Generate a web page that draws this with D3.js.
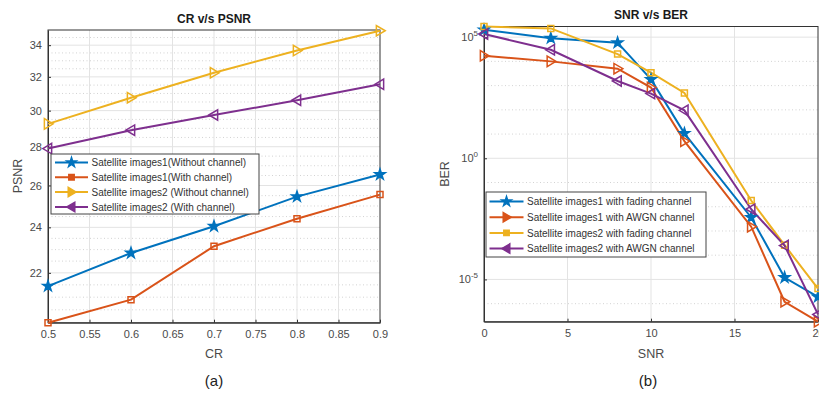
<!DOCTYPE html>
<html>
<head>
<meta charset="utf-8">
<script src="https://cdn.jsdelivr.net/npm/d3@7"></script>
<style>
  html, body { margin: 0; padding: 0; background: #fff; }
  svg { display: block; font-family: "Liberation Sans", Arial, sans-serif; }
</style>
</head>
<body>
<svg id="chart" width="819" height="395"></svg>
<script>
// ---------- Data: chart (a) CR v/s PSNR ----------
const crValues = [0.5, 0.6, 0.7, 0.8, 0.9];
const psnrImg1NoCh = [21.45, 22.85, 24.05, 25.45, 26.55];
const psnrImg1Ch   = [20.0, 20.9, 23.15, 24.4, 25.55];
const psnrImg2NoCh = [29.25, 30.75, 32.25, 33.65, 34.95];
const psnrImg2Ch   = [27.9, 28.9, 29.75, 30.6, 31.55];
const crTicks = [0.5, 0.55, 0.6, 0.65, 0.7, 0.75, 0.8, 0.85, 0.9];
const psnrTicks = [22, 24, 26, 28, 30, 32, 34];
const psnrMinorTicks = [20.5, 21, 21.5, 22.5, 23, 23.5, 24.5, 25, 25.5, 26.5, 27, 27.5, 28.5, 29, 29.5, 30.5, 31, 31.5, 32.5, 33, 33.5, 34.5];
const legendA = ["Satellite images1(Without channel)", "Satellite images1(With channel)", "Satellite images2 (Without channel)", "Satellite images2 (With channel)"];

// ---------- Data: chart (b) SNR v/s BER ----------
const snrValues = [0, 4, 8, 10, 12, 16, 18, 20];
const berImg1Fading = [2.0e5, 9.1e4, 5.9e4, 1.8e3, 10.7, 3.6e-3, 1.2e-5, 1.9e-6];
const berImg1AWGN   = [1.7e4, 1.0e4, 5.0e3, 8.3e2, 5.1, 1.5e-3, 1.2e-6, 1.8e-7];
const berImg2Fading = [2.75e5, 2.3e5, 2.0e4, 3.4e3, 5.0e2, 1.8e-2, 2.6e-4, 4.2e-6];
const berImg2AWGN   = [1.35e5, 3.0e4, 1.55e3, 4.7e2, 95, 7.9e-3, 2.5e-4, 3.6e-7];
const snrTicks = [0, 5, 10, 15, 20];
const berTickExps = [5, 0, -5];
const berMinorExps = [5, 4, 3, 2, 1, 0, -1, -2, -3, -4, -5, -6];
const legendB = ["Satellite images1 with fading channel", "Satellite images1 with AWGN channel", "Satellite images2 with fading channel", "Satellite images2 with AWGN channel"];

const colors = ["#0072BD", "#D95319", "#EDB120", "#7E2F8E"];

const svg = d3.select("#chart");

function triPath(dir, s) {
  const h = s;
  return `M${dir * h},0L${-dir * h * 0.7},${-h}L${-dir * h * 0.7},${h}Z`;
}
function drawMarker(g, kind, x, y, color, filled, scale) {
  scale = scale || 1;
  let p;
  if (kind === "star") p = d3.symbol().type(d3.symbolStar).size(34 * scale * scale)();
  else if (kind === "square") p = d3.symbol().type(d3.symbolSquare).size(36 * scale * scale)();
  else if (kind === "right") p = triPath(1, 5.2 * scale);
  else p = triPath(-1, 5.2 * scale);
  g.append("path").attr("d", p)
    .attr("transform", `translate(${x},${y})`)
    .attr("fill", (filled || kind === "star") ? color : "none")
    .attr("stroke", color).attr("stroke-width", 1.5)
    .attr("stroke-linejoin", "miter");
}

// ================= Chart (a) =================
(function () {
  const x = d3.scaleLinear().domain([0.5, 0.9]).range([48, 380]);
  const y = d3.scaleLog().domain([20, 35]).range([322.7, 30]);
  const g = svg.append("g");
  const [x0, x1] = x.range();
  const [y0, y1] = y.range();

  g.selectAll(".mg").data(psnrMinorTicks).enter().append("line")
    .attr("x1", x0).attr("x2", x1).attr("y1", d => y(d)).attr("y2", d => y(d))
    .attr("stroke", "#c8c8c8").attr("stroke-width", 0.8).attr("stroke-dasharray", "1,2.5");
  g.selectAll(".gy").data(psnrTicks).enter().append("line")
    .attr("x1", x0).attr("x2", x1).attr("y1", d => y(d)).attr("y2", d => y(d))
    .attr("stroke", "#e3e3e3").attr("stroke-width", 1);
  g.selectAll(".gx").data(crTicks.slice(1, -1)).enter().append("line")
    .attr("y1", y0).attr("y2", y1).attr("x1", d => x(d)).attr("x2", d => x(d))
    .attr("stroke", "#e3e3e3").attr("stroke-width", 1);

  const xAxis = d3.axisBottom(x).tickValues(crTicks).tickFormat(d => String(+d.toFixed(2))).tickSizeInner(-3).tickSizeOuter(0).tickPadding(8);
  const gx = g.append("g").attr("transform", `translate(0,${y0})`).call(xAxis);
  const yAxis = d3.axisLeft(y).tickValues(psnrTicks).tickFormat(d3.format("d")).tickSizeInner(-3).tickSizeOuter(0).tickPadding(6);
  const gy = g.append("g").attr("transform", `translate(${x0},0)`).call(yAxis);
  [gx, gy].forEach(a => {
    a.selectAll("text").attr("font-size", 11).attr("fill", "#4a4a4a").attr("font-family", "Liberation Sans, Arial, sans-serif");
    a.selectAll("line").attr("stroke", "#333");
    a.select(".domain").attr("stroke", "#333");
  });
  g.append("rect").attr("x", x0).attr("y", y1).attr("width", x1 - x0).attr("height", y0 - y1)
    .attr("fill", "none").attr("stroke", "#333").attr("stroke-width", 1);

  const series = [psnrImg1NoCh, psnrImg1Ch, psnrImg2NoCh, psnrImg2Ch];
  const kinds = ["star", "square", "right", "left"];
  const line = d3.line().x((d, i) => x(crValues[i])).y(d => y(d));
  series.forEach((s, k) => {
    g.append("path").datum(s).attr("d", line).attr("fill", "none")
      .attr("stroke", colors[k]).attr("stroke-width", 2);
  });
  series.forEach((s, k) => {
    s.forEach((v, i) => drawMarker(g, kinds[k], x(crValues[i]), y(v), colors[k], false));
  });

  g.append("text").attr("x", 214).attr("y", 23).attr("text-anchor", "middle")
    .attr("font-size", 12).attr("font-weight", "bold").attr("fill", "#1a1a1a").text("CR v/s PSNR");
  g.append("text").attr("x", 214).attr("y", 358).attr("text-anchor", "middle")
    .attr("font-size", 12.5).attr("fill", "#4a4a4a").text("CR");
  g.append("text").attr("transform", `translate(22,176) rotate(-90)`).attr("text-anchor", "middle")
    .attr("font-size", 12.5).attr("fill", "#4a4a4a").text("PSNR");
  g.append("text").attr("x", 214).attr("y", 386).attr("text-anchor", "middle")
    .attr("font-size", 15).attr("fill", "#222").text("(a)");

  const lg = g.append("g");
  lg.append("rect").attr("x", 51).attr("y", 154).attr("width", 208).attr("height", 60)
    .attr("fill", "#fff").attr("stroke", "#444").attr("stroke-width", 1);
  legendA.forEach((t, k) => {
    const yy = 162.5 + k * 14.8;
    lg.append("line").attr("x1", 55).attr("x2", 88).attr("y1", yy).attr("y2", yy)
      .attr("stroke", colors[k]).attr("stroke-width", 2);
    drawMarker(lg, kinds[k], 71.5, yy, colors[k], true, 0.9);
    lg.append("text").attr("x", 91.5).attr("y", yy + 3.6).attr("font-size", 10)
      .attr("fill", "#333").text(t);
  });
})();

// ================= Chart (b) =================
(function () {
  const x = d3.scaleLinear().domain([0, 20]).range([484, 818]);
  const y = d3.scaleLog().domain([1.8e-7, 2.75e5]).range([321.7, 26.5]);
  const g = svg.append("g");
  const [x0, x1] = x.range();
  const [y0, y1] = y.range();

  g.selectAll(".mg").data(berMinorExps.filter(e => berTickExps.indexOf(e) < 0)).enter().append("line")
    .attr("x1", x0).attr("x2", x1).attr("y1", d => y(Math.pow(10, d))).attr("y2", d => y(Math.pow(10, d)))
    .attr("stroke", "#c8c8c8").attr("stroke-width", 0.8).attr("stroke-dasharray", "1,2.5");
  g.selectAll(".gy").data(berTickExps).enter().append("line")
    .attr("x1", x0).attr("x2", x1).attr("y1", d => y(Math.pow(10, d))).attr("y2", d => y(Math.pow(10, d)))
    .attr("stroke", "#e3e3e3").attr("stroke-width", 1);
  g.selectAll(".gx").data(snrTicks.slice(1, -1)).enter().append("line")
    .attr("y1", y0).attr("y2", y1).attr("x1", d => x(d)).attr("x2", d => x(d))
    .attr("stroke", "#e3e3e3").attr("stroke-width", 1);

  const xAxis = d3.axisBottom(x).tickValues(snrTicks).tickFormat(d3.format("d")).tickSizeInner(-3).tickSizeOuter(0).tickPadding(8);
  const gx = g.append("g").attr("transform", `translate(0,${y0})`).call(xAxis);
  gx.selectAll("text").attr("font-size", 11).attr("fill", "#4a4a4a");
  gx.selectAll("line").attr("stroke", "#333");
  gx.select(".domain").attr("stroke", "#333");

  const yAxis = d3.axisLeft(y).tickValues(berTickExps.map(e => Math.pow(10, e))).tickFormat(() => "").tickSizeInner(-3).tickSizeOuter(0).tickPadding(6);
  const gy = g.append("g").attr("transform", `translate(${x0},0)`).call(yAxis);
  gy.selectAll("line").attr("stroke", "#333");
  gy.select(".domain").attr("stroke", "#333");
  berTickExps.forEach(e => {
    const t = g.append("text").attr("x", 478).attr("y", y(Math.pow(10, e)) + 4)
      .attr("text-anchor", "end").attr("font-size", 11).attr("fill", "#4a4a4a");
    t.append("tspan").text("10");
    t.append("tspan").attr("dy", -5).attr("font-size", 8).text(String(e));
  });

  g.append("rect").attr("x", x0).attr("y", y1).attr("width", x1 - x0).attr("height", y0 - y1)
    .attr("fill", "none").attr("stroke", "#333").attr("stroke-width", 1);

  const series = [berImg1Fading, berImg1AWGN, berImg2Fading, berImg2AWGN];
  const kinds = ["star", "right", "square", "left"];
  const line = d3.line().x((d, i) => x(snrValues[i])).y(d => y(d));
  series.forEach((s, k) => {
    g.append("path").datum(s).attr("d", line).attr("fill", "none")
      .attr("stroke", colors[k]).attr("stroke-width", 2);
  });
  series.forEach((s, k) => {
    s.forEach((v, i) => drawMarker(g, kinds[k], x(snrValues[i]), y(v), colors[k], false));
  });

  g.append("text").attr("x", 651).attr("y", 19).attr("text-anchor", "middle")
    .attr("font-size", 12).attr("font-weight", "bold").attr("fill", "#1a1a1a").text("SNR v/s BER");
  g.append("text").attr("x", 651).attr("y", 358).attr("text-anchor", "middle")
    .attr("font-size", 12.5).attr("fill", "#4a4a4a").text("SNR");
  g.append("text").attr("transform", `translate(449,174) rotate(-90)`).attr("text-anchor", "middle")
    .attr("font-size", 12.5).attr("fill", "#4a4a4a").text("BER");
  g.append("text").attr("x", 648).attr("y", 386).attr("text-anchor", "middle")
    .attr("font-size", 15).attr("fill", "#222").text("(b)");

  const lg = g.append("g");
  lg.append("rect").attr("x", 486).attr("y", 192).attr("width", 220).attr("height", 65)
    .attr("fill", "#fff").attr("stroke", "#444").attr("stroke-width", 1);
  legendB.forEach((t, k) => {
    const yy = 201.5 + k * 15.7;
    lg.append("line").attr("x1", 489.5).attr("x2", 523.5).attr("y1", yy).attr("y2", yy)
      .attr("stroke", colors[k]).attr("stroke-width", 2);
    drawMarker(lg, kinds[k], 506.5, yy, colors[k], true, 0.9);
    lg.append("text").attr("x", 527).attr("y", yy + 3.6).attr("font-size", 10)
      .attr("fill", "#333").text(t);
  });
})();
</script>
</body>
</html>
